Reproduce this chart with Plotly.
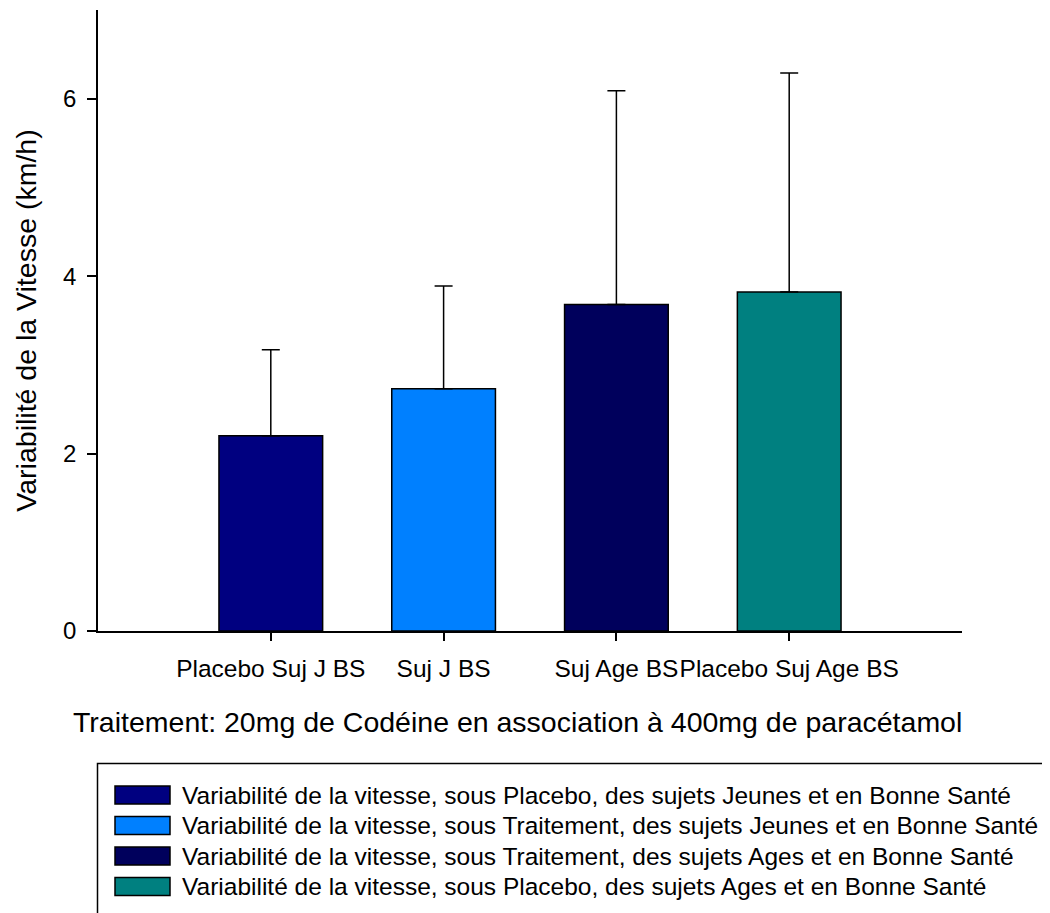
import plotly.graph_objects as go

# data
categories = ["Placebo Suj J BS", "Suj J BS", "Suj Age BS", "Placebo Suj Age BS"]
means = [2.20, 2.73, 3.68, 3.82]
errors_up = [0.97, 1.16, 2.41, 2.47]
errors_down = [0, 0, 0, 0]
bar_colors = ["#000080", "#0080FF", "#00005C", "#008080"]
legend_labels = [
    "Variabilité de la vitesse, sous Placebo, des sujets Jeunes et en Bonne Santé",
    "Variabilité de la vitesse, sous Traitement, des sujets Jeunes et en Bonne Santé",
    "Variabilité de la vitesse, sous Traitement, des sujets Ages et en Bonne Santé",
    "Variabilité de la vitesse, sous Placebo, des sujets Ages et en Bonne Santé",
]
y_ticks = [0, 2, 4, 6]
x_title = "Traitement: 20mg de Codéine en association à 400mg de paracétamol"
y_title = "Variabilité de la Vitesse (km/h)"

# page body has an 8px margin, so the figure is 8px smaller and shifted
OFF = 8
W, H = 1050 - OFF, 913 - OFF
L, R, T, B = 90, 88, 2, 282
FONT = "Liberation Sans, Arial, sans-serif"


def px_x(x):
    # x in reference-page pixels -> paper
    return (x - OFF - L) / (W - L - R)


def px_y(y):
    return (H - B - (y - OFF)) / (H - T - B)


fig = go.Figure()
fig.add_trace(go.Bar(
    x=categories,
    y=means,
    width=0.6,
    marker=dict(color=bar_colors, line=dict(color="black", width=1.5)),
    error_y=dict(type="data", symmetric=False, array=errors_up,
                 arrayminus=errors_down, color="black", thickness=1.5, width=9),
    showlegend=False,
))

# hand-drawn legend box (runs off the page like the original)
shapes = [dict(type="rect", xref="paper", yref="paper",
               x0=px_x(97.5), x1=px_x(1080), y0=px_y(763.5), y1=px_y(960),
               line=dict(color="black", width=1.5), fillcolor="rgba(0,0,0,0)")]
annotations = []
row0, step = 795, 30.5
for i, (lab, col) in enumerate(zip(legend_labels, bar_colors)):
    cy = row0 + i * step
    shapes.append(dict(type="rect", xref="paper", yref="paper",
                       x0=px_x(115), x1=px_x(170), y0=px_y(cy - 9), y1=px_y(cy + 9),
                       fillcolor=col, line=dict(color="black", width=1.5)))
    annotations.append(dict(xref="paper", yref="paper", x=px_x(180), y=px_y(cy),
                            xanchor="left", yanchor="middle", showarrow=False,
                            text=lab, font=dict(size=24.5, color="black", family=FONT)))

# x title sits a little left of the plot centre in the original
annotations.append(dict(xref="paper", yref="paper", x=px_x(517), y=px_y(722),
                        xanchor="center", yanchor="middle", showarrow=False,
                        text=x_title, font=dict(size=28.5, color="black", family=FONT)))

fig.update_layout(
    width=W, height=H,
    margin=dict(l=L, r=R, t=T, b=B),
    paper_bgcolor="white", plot_bgcolor="white",
    font=dict(family=FONT, color="black", size=24),
    shapes=shapes,
    annotations=annotations,
    xaxis=dict(
        type="category", range=[-1, 4],
        showline=True, linecolor="black", linewidth=1.5,
        ticks="outside", ticklen=8, tickwidth=1.5, tickcolor="black",
        tickfont=dict(size=24.5), tickangle=0, ticklabelstandoff=7,
        showgrid=False, zeroline=False,
        automargin=False,
    ),
    yaxis=dict(
        range=[0, 7], tickvals=y_ticks,
        showline=True, linecolor="black", linewidth=1.5,
        ticks="outside", ticklen=9, tickwidth=1.5, tickcolor="black",
        tickfont=dict(size=24), ticklabelstandoff=6,
        showgrid=False, zeroline=False,
        title=dict(text=y_title, font=dict(size=28.5), standoff=18),
        automargin=False,
    ),
)

fig.write_html("out.html")
